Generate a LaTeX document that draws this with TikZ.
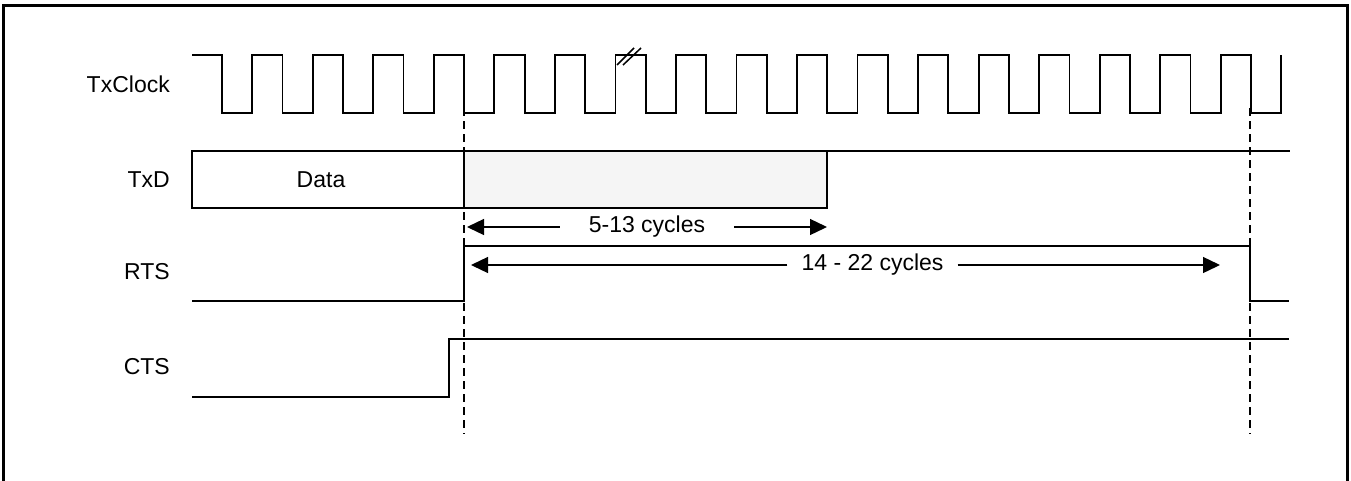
\documentclass[tikz,border=0pt]{standalone}
\usepackage{fontspec}
\setmainfont{Liberation Sans}
\usetikzlibrary{arrows.meta}
\definecolor{boxgray}{HTML}{F5F5F5}
\begin{document}
\begin{tikzpicture}[x=1pt,y=-1pt,
  sig/.style={line width=1.8pt,line join=miter},
  guide/.style={line width=1.5pt,dash pattern=on 8pt off 5pt},
  dim/.style={line width=1.3pt,-{Triangle[length=17pt,width=16pt]}},
  lbl/.style={font=\fontsize{23}{26}\selectfont,anchor=east,inner sep=0pt},
  txt/.style={font=\fontsize{23}{26}\selectfont,inner sep=0pt}]
\useasboundingbox (0,0) rectangle (1351,480);
% frame
\draw[line width=3pt] (3,482) -- (3,5.5) -- (1347,5.5) -- (1347,482);
% labels
\node[lbl] (lclk) at (170,84) {TxClock};
\node[lbl] (ltxd) at (170,180) {TxD};
\node[lbl] (lrts) at (170,272) {RTS};
\node[lbl] (lcts) at (170,367) {CTS};
% clock
\draw[sig] (192,55) foreach \k in {0,...,17}{
  -- ({222+60.53*\k},55) -- ({222+60.53*\k},113)
  -- ({252.26+60.53*\k},113) -- ({252.26+60.53*\k},55) };
% break mark
\draw[line width=1.5pt] (617,65) -- (634,48) (623,65) -- (641,48);
% TxD
\draw[sig] (192,151) rectangle (464,208);
\node[txt] (data) at (321,180) {Data};
\draw[sig,fill=boxgray] (464,151) rectangle (827,208);
\draw[sig] (827,151) -- (1290,151);
% RTS
\draw[sig] (192,301) -- (464,301) -- (464,246) -- (1250,246) -- (1250,301) -- (1289,301);
% CTS
\draw[sig] (192,397) -- (449,397) -- (449,339) -- (1289,339);
% guides
\coordinate (g1t) at (464,108); \coordinate (g1b) at (464,434);
\coordinate (g2t) at (1250,108); \coordinate (g2b) at (1250,434);
\draw[guide] (g1t) -- (g1b);
\draw[guide] (g2t) -- (g2b);
% 5-13 cycles
\coordinate (a1l) at (467,227); \coordinate (a1r) at (827,227);
\node[txt,inner xsep=29pt] (c513) at (647,227) {5-13 cycles};
\draw[dim] (c513.west) -- (a1l);
\draw[dim] (c513.east) -- (a1r);
% 14-22 cycles
\coordinate (a2l) at (471,265); \coordinate (a2r) at (1220,265);
\node[txt,inner xsep=14pt] (c1422) at (872.5,265) {14 - 22 cycles};
\draw[dim] (c1422.west) -- (a2l);
\draw[dim] (c1422.east) -- (a2r);
\end{tikzpicture}
\end{document}
